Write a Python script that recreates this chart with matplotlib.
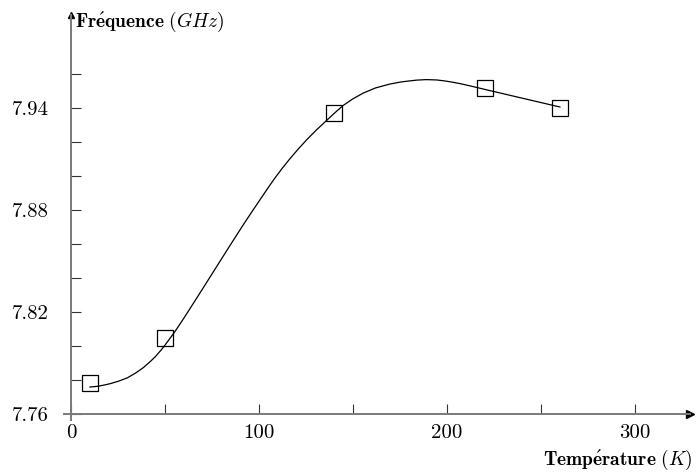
import matplotlib
matplotlib.use("Agg")
import matplotlib.pyplot as plt
from matplotlib.ticker import FixedLocator, FixedFormatter

plt.rcParams['font.family'] = 'serif'
plt.rcParams['font.serif'] = ['cmr10', 'DejaVu Serif']
plt.rcParams['mathtext.fontset'] = 'cm'

# measured points (squares)
temp_pts = [10, 50, 140, 220, 260]
freq_pts = [7.778, 7.805, 7.937, 7.952, 7.940]

# smooth curve
curve_t = [10.1, 14, 17, 21, 25.5, 30, 34.5, 38.5, 42.5, 45, 48, 50, 55, 60,
           65, 70, 76, 80, 84, 88, 92.6, 97, 101.4, 105, 108.5, 112.5, 116.5,
           121, 125.4, 130.5, 136, 140.5, 144.8, 150, 155.5, 162, 169.7, 176,
           183.9, 189, 194.5, 199, 203.4, 208, 212, 216.5, 221.1, 238.8, 260.1]
curve_f = [7.7759, 7.7763, 7.7769, 7.7779, 7.7794, 7.7813, 7.7842, 7.7873,
           7.7912, 7.7939, 7.7977, 7.8005, 7.8080, 7.8163, 7.8249, 7.8336,
           7.8441, 7.8511, 7.8581, 7.8650, 7.8729, 7.8802, 7.8874, 7.8933,
           7.8988, 7.9047, 7.9102, 7.9160, 7.9213, 7.9270, 7.9327, 7.9373,
           7.9415, 7.9454, 7.9488, 7.9518, 7.9541, 7.9554, 7.9564, 7.9567,
           7.9565, 7.9559, 7.9551, 7.9541, 7.9531, 7.9519, 7.9507, 7.9461,
           7.9406]

x_major = [0, 100, 200, 300]
x_minor = [50, 150, 250]
y_major = [7.76, 7.82, 7.88, 7.94]
y_minor = [7.78, 7.80, 7.84, 7.86, 7.90, 7.92, 7.96]

fig = plt.figure(figsize=(6.96, 4.73), dpi=100)
ax = fig.add_axes([64/696, 53/473, 626/696, 405/473])

ax.plot(curve_t, curve_f, color='black', lw=0.9)
ax.plot(temp_pts, freq_pts, 's', ms=11.5, mfc='none', mec='black', mew=0.9)

ax.set_xlim(-3.7, 329.3)
ax.set_ylim(7.7565, 7.9947)

for s in ['top', 'right']:
    ax.spines[s].set_visible(False)
ax.spines['left'].set_position(('data', 0))
ax.spines['bottom'].set_position(('data', 7.76))
for s in ['left', 'bottom']:
    ax.spines[s].set_color('#7a7a7a')
    ax.spines[s].set_linewidth(1.4)

ax.xaxis.set_major_locator(FixedLocator(x_major))
ax.xaxis.set_major_formatter(FixedFormatter([str(v) for v in x_major]))
ax.xaxis.set_minor_locator(FixedLocator(x_minor))
ax.yaxis.set_major_locator(FixedLocator(y_major))
ax.yaxis.set_major_formatter(FixedFormatter(['%.2f' % v for v in y_major]))
ax.yaxis.set_minor_locator(FixedLocator(y_minor))
ax.tick_params(which='both', direction='in', length=7, width=0.8,
               color='#333333', labelsize=15)
ax.tick_params(axis='y', pad=16)
ax.tick_params(axis='x', pad=7)

# arrow heads
ax.plot(1, 7.76, '>', color='black', ms=6, transform=ax.get_yaxis_transform(),
        clip_on=False)
ax.plot(0, 1, '^', color='black', ms=5, transform=ax.get_xaxis_transform(),
        clip_on=False)

fig.text(75/696, 1 - 22/473, r'$\mathbf{Fr\acute{e}quence}\ (GHz)$',
         fontsize=14, ha='left', va='center')
fig.text(693/696, 1 - 460/473, r'$\mathbf{Temp\acute{e}rature}\ (K)$',
         fontsize=14, ha='right', va='center')

fig.savefig('out.png', dpi=100)
